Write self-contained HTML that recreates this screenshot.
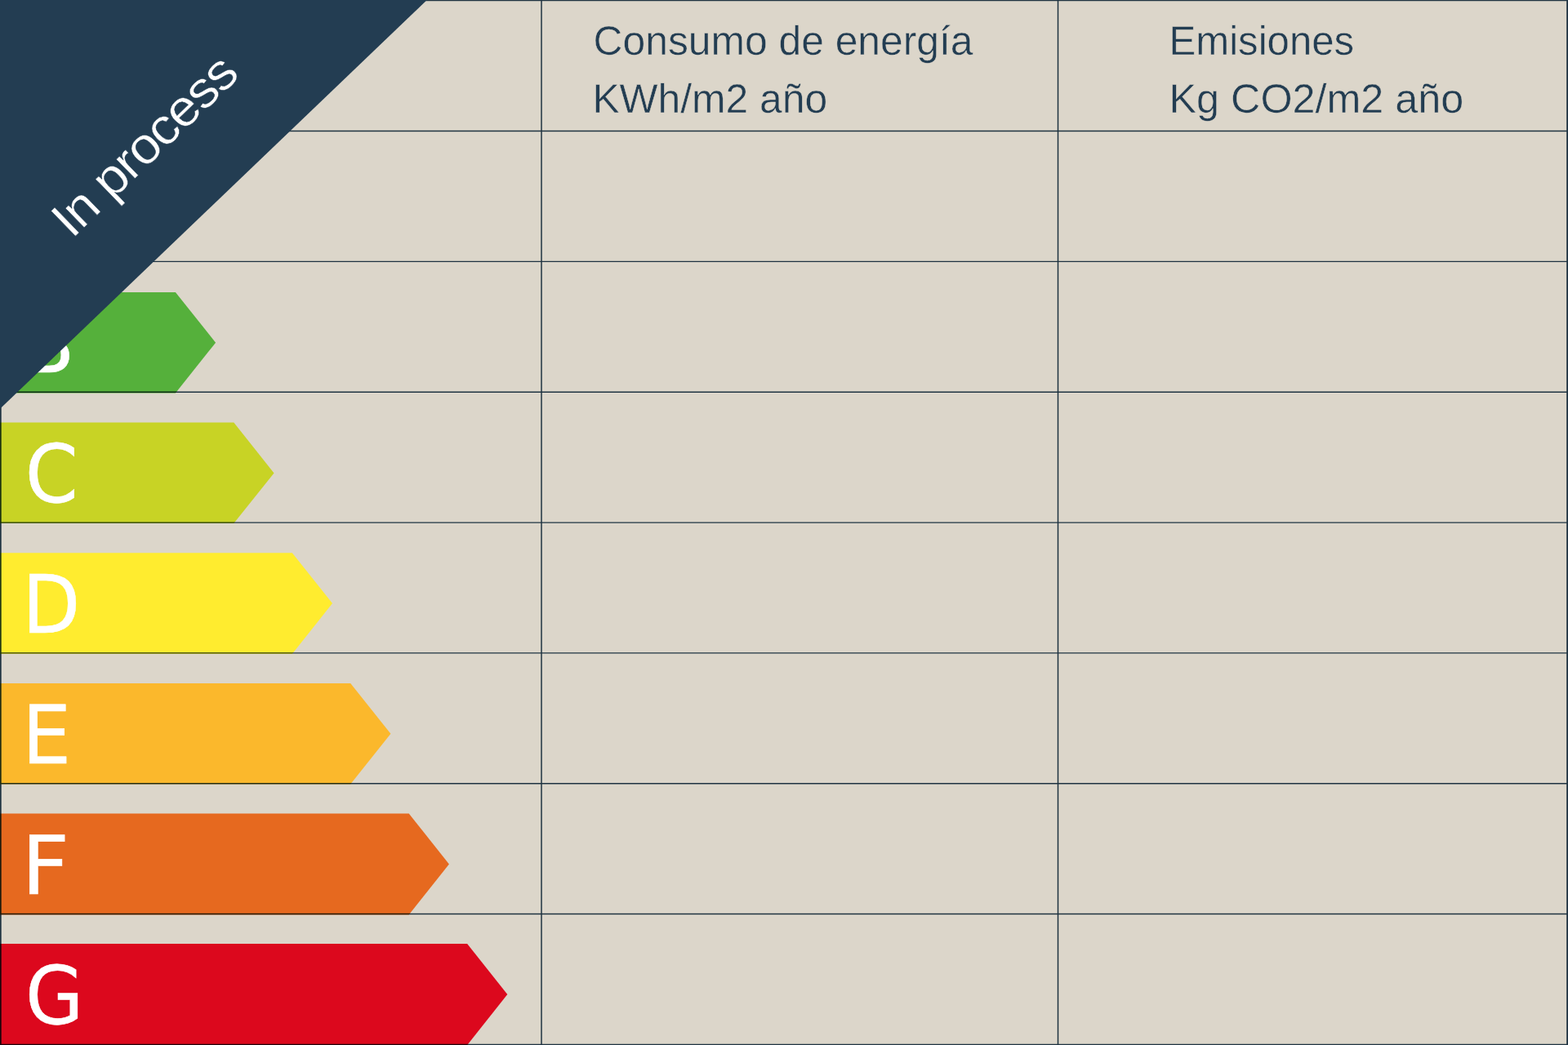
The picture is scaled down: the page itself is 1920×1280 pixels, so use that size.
<!DOCTYPE html>
<html lang="es">
<head>
<meta charset="utf-8">
<title>Certificado energético</title>
<style>
html,body{margin:0;padding:0;background:#dcd6ca;}
body{width:1920px;height:1280px;overflow:hidden;position:relative;font-family:"Liberation Sans","DejaVu Sans",sans-serif;}
svg{display:block;position:absolute;left:0;top:0;}
.hd{text-rendering:geometricPrecision;font-family:"Liberation Sans",sans-serif;font-size:50px;fill:#233d52;stroke:#dcd6ca;stroke-width:0.5px;}
.lt{text-rendering:geometricPrecision;font-family:"DejaVu Sans","Liberation Sans",sans-serif;font-size:100px;fill:#fff;stroke:#fff;stroke-width:0.5px;}
.rb{text-rendering:geometricPrecision;font-family:"Liberation Sans",sans-serif;font-size:62.4px;letter-spacing:-1.8px;fill:#fff;stroke:#233d52;stroke-width:0.5px;}
.ln{stroke:#233d52;fill:none;mix-blend-mode:multiply;}
</style>
</head>
<body>
<svg width="1920" height="1280" viewBox="0 0 1920 1280">
<rect x="0" y="0" width="1920" height="1280" fill="#dcd6ca"/>

<g>
<polygon fill="#009640" points="0,198.4 143.5,198.4 192.7,260.0 143.5,321.7 0,321.7"/>
<text class="lt" transform="translate(32.56,295.45) scale(0.8907,0.9931)">A</text>
<polygon fill="#55b03b" points="0,358.0 214.9,358.0 264.1,419.7 214.9,481.4 0,481.4"/>
<text class="lt" transform="translate(27.05,455.85) scale(0.9379,0.9931)">B</text>
<polygon fill="#c8d325" points="0,517.6 286.3,517.6 335.5,579.4 286.3,641.1 0,641.1"/>
<text class="lt" transform="translate(30.87,615.22) scale(0.9320,0.9860)">C</text>
<polygon fill="#ffec2f" points="0,677.2 357.8,677.2 407.0,739.1 357.8,800.9 0,800.9"/>
<text class="lt" transform="translate(27.27,774.94) scale(0.9227,0.9861)">D</text>
<polygon fill="#fbb82c" points="0,836.9 429.2,836.9 478.4,898.7 429.2,960.6 0,960.6"/>
<text class="lt" transform="translate(26.96,935.04) scale(0.9522,0.9921)">E</text>
<polygon fill="#e6691f" points="0,996.5 500.7,996.5 549.9,1058.4 500.7,1120.4 0,1120.4"/>
<text class="lt" transform="translate(26.26,1094.93) scale(1.0210,0.9944)">F</text>
<polygon fill="#dc081d" points="0,1156.1 572.1,1156.1 621.3,1218.1 572.1,1280.1 0,1280.1"/>
<text class="lt" transform="translate(31.09,1254.22) scale(0.9223,0.9861)">G</text>
</g>
<g class="ln">
<line x1="0" y1="160.5" x2="1920" y2="160.5" stroke-width="1.4"/>
<line x1="0" y1="320.4" x2="1920" y2="320.4" stroke-width="1.4"/>
<line x1="0" y1="480.3" x2="1920" y2="480.3" stroke-width="1.4"/>
<line x1="0" y1="640.1" x2="1920" y2="640.1" stroke-width="1.4"/>
<line x1="0" y1="799.9" x2="1920" y2="799.9" stroke-width="1.4"/>
<line x1="0" y1="959.7" x2="1920" y2="959.7" stroke-width="1.4"/>
<line x1="0" y1="1119.5" x2="1920" y2="1119.5" stroke-width="1.4"/>
<line x1="663.0" y1="0" x2="663.0" y2="1280" stroke-width="1.5"/>
<line x1="1295.5" y1="0" x2="1295.5" y2="1280" stroke-width="1.5"/>
<line x1="0" y1="0" x2="1920" y2="0" stroke-width="2.6"/>
<line x1="0" y1="1280" x2="1920" y2="1280" stroke-width="2.6"/>
<line x1="0" y1="0" x2="0" y2="1280" stroke-width="3.4"/>
<line x1="1920" y1="0" x2="1920" y2="1280" stroke-width="3.6"/>
</g>
<text class="hd" x="726.55" y="66.95" textLength="465" lengthAdjust="spacingAndGlyphs">Consumo de energía</text>
<text class="hd" x="725.4" y="137.75" textLength="287.8" lengthAdjust="spacingAndGlyphs">KWh/m2 año</text>
<text class="hd" x="1431.55" y="66.95" textLength="226.5" lengthAdjust="spacingAndGlyphs">Emisiones</text>
<text class="hd" x="1431.55" y="137.75" textLength="360.7" lengthAdjust="spacingAndGlyphs">Kg CO2/m2 año</text>

<polygon fill="#233d52" points="0,0 522.8,0 0,500.8"/>
<text class="rb" transform="translate(88.0,293.6) rotate(-44.1)" textLength="287" lengthAdjust="spacingAndGlyphs">In process</text>

</svg>
</body>
</html>
